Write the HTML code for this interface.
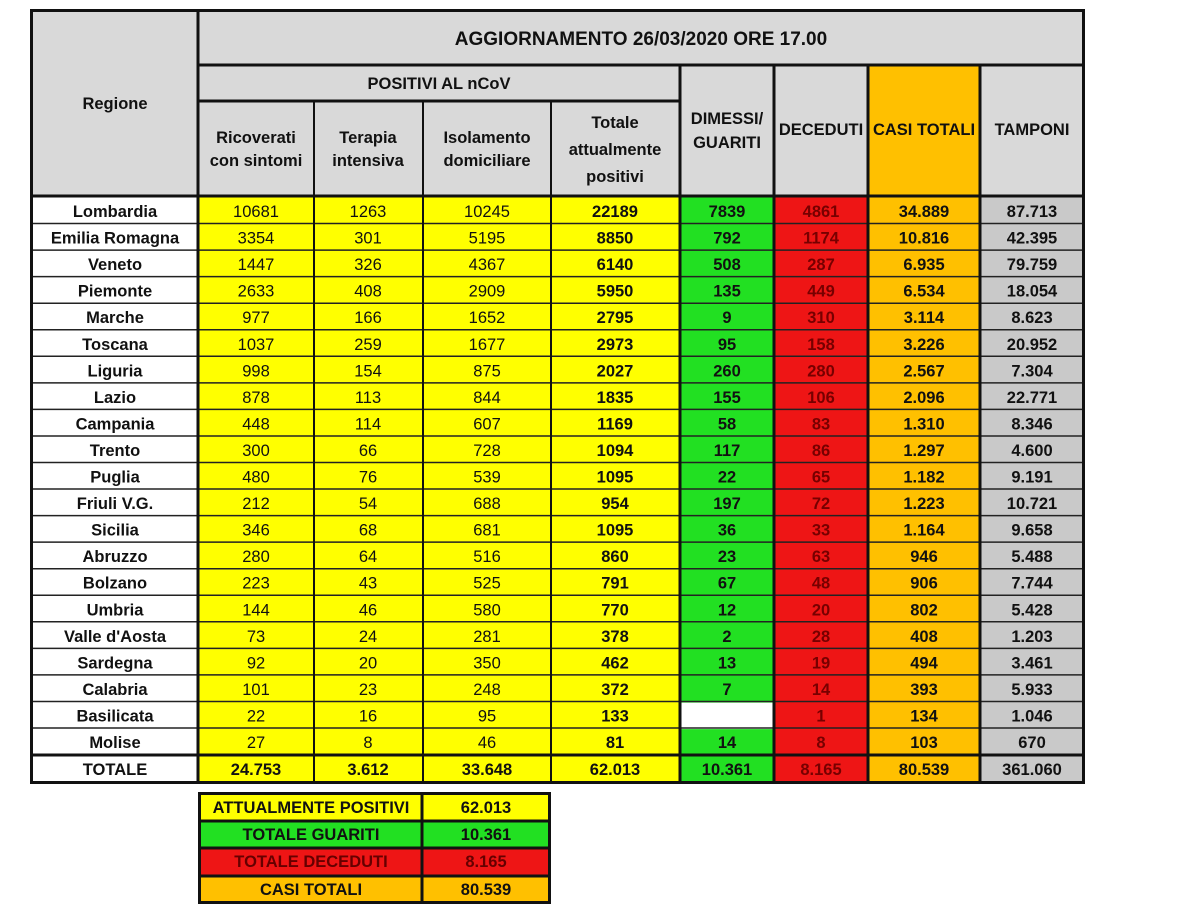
<!DOCTYPE html>
<html><head><meta charset="utf-8"><style>
html,body{margin:0;padding:0;background:#fff;}
svg{display:block}
text{font-family:"Liberation Sans",sans-serif;font-size:16.5px;text-anchor:middle;fill:#111}
.b{font-weight:bold}
</style></head><body>
<svg width="1194" height="916" viewBox="0 0 1194 916">
<rect x="31" y="10" width="1053" height="187" fill="#d9d9d9"/>
<rect x="868" y="65" width="112" height="132" fill="#ffc000"/>
<rect x="31" y="197" width="167" height="586" fill="#fff"/>
<rect x="198" y="197" width="482" height="586" fill="#ffff00"/>
<rect x="680" y="197" width="94" height="586" fill="#22e022"/>
<rect x="774" y="197" width="94" height="586" fill="#ee1515"/>
<rect x="868" y="197" width="112" height="586" fill="#ffc000"/>
<rect x="980" y="197" width="104" height="586" fill="#c9c9c9"/>
<rect x="680" y="702.6" width="94" height="26.5" fill="#fff"/>
<g stroke="#222" stroke-width="1.5" id="hl"></g>
<g stroke="#111" stroke-width="3" fill="none">
<rect x="31.5" y="10.5" width="1052" height="772"/>
<line x1="198" y1="10" x2="198" y2="783"/>
<line x1="198" y1="65" x2="1084" y2="65"/>
<line x1="198" y1="101" x2="680" y2="101"/>
<line x1="31" y1="196" x2="1084" y2="196"/>
<line x1="680" y1="65" x2="680" y2="783"/>
<line x1="774" y1="65" x2="774" y2="783"/>
<line x1="868" y1="65" x2="868" y2="783"/>
<line x1="980" y1="65" x2="980" y2="783"/>
<line x1="31" y1="755" x2="1084" y2="755"/>
</g>
<g stroke="#111" stroke-width="2">
<line x1="314" y1="101" x2="314" y2="783"/>
<line x1="423" y1="101" x2="423" y2="783"/>
<line x1="551" y1="101" x2="551" y2="783"/>
</g>
<g class="b">
<text x="641" y="45" style="font-size:19px">AGGIORNAMENTO 26/03/2020 ORE 17.00</text>
<text x="439" y="89">POSITIVI AL nCoV</text>
<text x="115" y="109">Regione</text>
<text x="256" y="143">Ricoverati</text><text x="256" y="166">con sintomi</text>
<text x="368" y="143">Terapia</text><text x="368" y="166">intensiva</text>
<text x="487" y="143">Isolamento</text><text x="487" y="166">domiciliare</text>
<text x="615" y="128">Totale</text><text x="615" y="155">attualmente</text><text x="615" y="182">positivi</text>
<text x="727" y="124">DIMESSI/</text><text x="727" y="148">GUARITI</text>
<text x="821" y="135">DECEDUTI</text>
<text x="924" y="135">CASI TOTALI</text>
<text x="1032" y="135">TAMPONI</text>
</g>
<g id="rows"></g>
<rect x="199" y="793" width="351" height="28" fill="#ffff00"/>
<rect x="199" y="821" width="351" height="27" fill="#22e022"/>
<rect x="199" y="848" width="351" height="28" fill="#ee1515"/>
<rect x="199" y="876" width="351" height="27" fill="#ffc000"/>
<g stroke="#111" stroke-width="3" fill="none">
<rect x="199.5" y="793.5" width="350" height="109"/>
<line x1="422" y1="793" x2="422" y2="903"/>
<line x1="199" y1="821" x2="550" y2="821"/>
<line x1="199" y1="848" x2="550" y2="848"/>
<line x1="199" y1="876" x2="550" y2="876"/>
</g>
<g class="b">
<text x="311" y="813">ATTUALMENTE POSITIVI</text><text x="486" y="813">62.013</text>
<text x="311" y="840">TOTALE GUARITI</text><text x="486" y="840">10.361</text>
<text x="311" y="867" style="fill:#600">TOTALE DECEDUTI</text><text x="486" y="867" style="fill:#600">8.165</text>
<text x="311" y="895">CASI TOTALI</text><text x="486" y="895">80.539</text>
</g>
</svg>
<script>
(function(){
var d=[
["Lombardia","10681","1263","10245","22189","7839","4861","34.889","87.713"],
["Emilia Romagna","3354","301","5195","8850","792","1174","10.816","42.395"],
["Veneto","1447","326","4367","6140","508","287","6.935","79.759"],
["Piemonte","2633","408","2909","5950","135","449","6.534","18.054"],
["Marche","977","166","1652","2795","9","310","3.114","8.623"],
["Toscana","1037","259","1677","2973","95","158","3.226","20.952"],
["Liguria","998","154","875","2027","260","280","2.567","7.304"],
["Lazio","878","113","844","1835","155","106","2.096","22.771"],
["Campania","448","114","607","1169","58","83","1.310","8.346"],
["Trento","300","66","728","1094","117","86","1.297","4.600"],
["Puglia","480","76","539","1095","22","65","1.182","9.191"],
["Friuli V.G.","212","54","688","954","197","72","1.223","10.721"],
["Sicilia","346","68","681","1095","36","33","1.164","9.658"],
["Abruzzo","280","64","516","860","23","63","946","5.488"],
["Bolzano","223","43","525","791","67","48","906","7.744"],
["Umbria","144","46","580","770","12","20","802","5.428"],
["Valle d'Aosta","73","24","281","378","2","28","408","1.203"],
["Sardegna","92","20","350","462","13","19","494","3.461"],
["Calabria","101","23","248","372","7","14","393","5.933"],
["Basilicata","22","16","95","133","","1","134","1.046"],
["Molise","27","8","46","81","14","8","103","670"],
["TOTALE","24.753","3.612","33.648","62.013","10.361","8.165","80.539","361.060"]];
var cx=[115,256,368,487,615,727,821,924,1032];
var NS="http://www.w3.org/2000/svg",g=document.getElementById("rows"),hl=document.getElementById("hl");
for(var i=0;i<d.length;i++){
 var ry=i<21?197+i*26.55:755;
 if(i>0&&i<21){var l=document.createElementNS(NS,"line");l.setAttribute("x1",31);l.setAttribute("x2",1084);l.setAttribute("y1",ry);l.setAttribute("y2",ry);hl.appendChild(l);}
 for(var j=0;j<9;j++){
  var t=document.createElementNS(NS,"text");t.setAttribute("x",cx[j]);t.setAttribute("y",ry+20);
  if(j==0||j>=4||i==21)t.setAttribute("class","b");
  if(j==6)t.setAttribute("style","fill:#700");
  t.textContent=d[i][j];g.appendChild(t);
 }
}
})();
</script>
</body></html>
